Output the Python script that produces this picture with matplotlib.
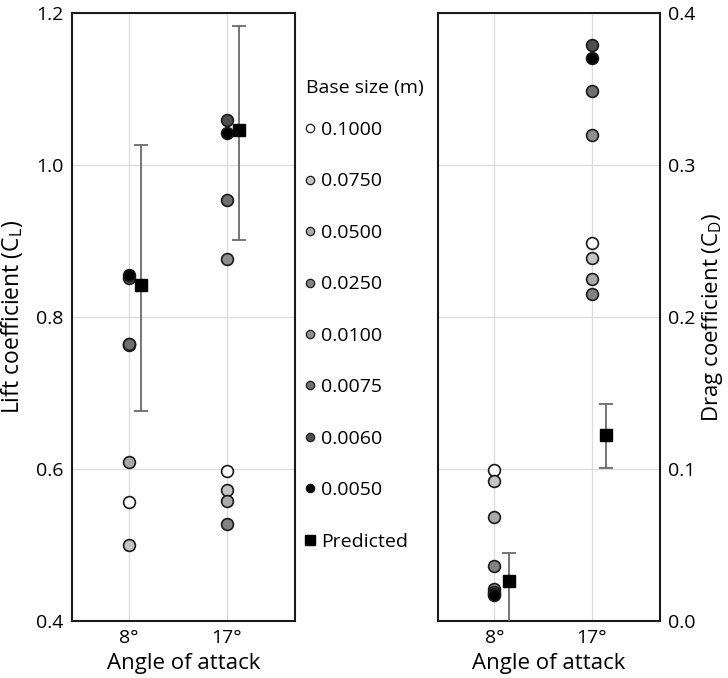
import matplotlib.pyplot as plt
from matplotlib.lines import Line2D

plt.rcParams['font.family'] = ['Open Sans', 'DejaVu Sans']
plt.rcParams['mathtext.fontset'] = 'custom'
plt.rcParams['mathtext.rm'] = 'Open Sans'

# data
angles = ["8°", "17°"]
sizes = ["0.1000", "0.0750", "0.0500", "0.0250", "0.0100", "0.0075", "0.0060", "0.0050"]
greys = ["#ffffff", "#c4c4c4", "#a9a9a9", "#828282", "#8f8f8f", "#6f6f6f", "#4d4d4d", "#000000"]

# lift coefficient per base size, [8°, 17°]
cl = [[0.556, 0.598], [0.500, 0.573], [0.609, 0.558], [0.763, 0.528],
      [0.764, 0.877], [0.765, 0.954], [0.852, 1.059], [0.856, 1.042]]
cl_pred = [0.842, 1.046]
cl_lo = [0.677, 0.902]
cl_hi = [1.026, 1.183]

# drag coefficient per base size, [8°, 17°]
cd = [[0.0997, 0.2487], [0.092, 0.2389], [0.0682, 0.2251], [0.0362, 0.215],
      [0.021, 0.320], [0.019, 0.349], [0.018, 0.379], [0.017, 0.3706]]
cd_pred = [0.0263, 0.1223]
cd_lo = [-0.01, 0.1008]
cd_hi = [0.0449, 0.1429]

fig = plt.figure(figsize=(7.28, 6.78), dpi=100)
axL = fig.add_axes([72 / 728, 57 / 678, 223 / 728, 607.7 / 678])
axR = fig.add_axes([438 / 728, 57 / 678, 222 / 728, 607.7 / 678])


def panel(ax, vals, pred, lo, hi, off):
    xs = list(range(len(angles)))
    ax.grid(True, color="#dcdcdc", lw=0.9, zorder=0)
    for v, g in zip(vals, greys):
        ax.plot(xs, v, "o", ms=8.5, mfc=g, mec="#1a1a1a", mew=1.2, ls="none", zorder=3)
    px = [x + off for x in xs]
    err = [[p - l for p, l in zip(pred, lo)], [h - p for p, h in zip(pred, hi)]]
    ax.errorbar(px, pred, yerr=err, fmt="s", ms=8, mfc="black", mec="black",
                ecolor="#6a6a6a", elinewidth=1.3, capsize=5, capthick=1.3, zorder=4)
    ax.set_xticks(xs)
    ax.set_xticklabels(angles)
    ax.set_xlim(-0.58, 1.7)
    ax.tick_params(length=0, labelsize=14, pad=6)
    for s in ax.spines.values():
        s.set_linewidth(1.5)
        s.set_color("#1a1a1a")
    ax.set_xlabel("Angle of attack", fontsize=16, labelpad=4)


panel(axL, cl, cl_pred, cl_lo, cl_hi, 0.128)
axL.set_ylim(0.4, 1.2)
axL.set_yticks([0.4, 0.6, 0.8, 1.0, 1.2])
axL.set_ylabel("Lift coefficient (C$_\\mathregular{L}$)", fontsize=16.5, labelpad=8)

panel(axR, cd, cd_pred, cd_lo, cd_hi, 0.15)
axR.set_ylim(0.0, 0.4)
axR.set_yticks([0.0, 0.1, 0.2, 0.3, 0.4])
axR.yaxis.tick_right()
axR.yaxis.set_label_position("right")
axR.set_ylabel("Drag coefficient (C$_\\mathregular{D}$)", fontsize=16, labelpad=3)

# legend: title as plain text, entries as a figure legend
fig.text(306 / 728, 1 - 88 / 678, "Base size (m)", fontsize=14, ha="left", va="center")
handles = [Line2D([], [], marker="o", ls="none", ms=6, mfc=g, mec="#1a1a1a", mew=0.9)
           for g in greys]
handles.append(Line2D([], [], marker="s", ls="none", ms=6.5, mfc="black", mec="black"))
fig.legend(handles, sizes + ["Predicted"], loc="upper left",
           bbox_to_anchor=(302 / 728, 1 - 121 / 678), frameon=False, fontsize=14,
           labelspacing=1.72, handletextpad=0.2, handlelength=0.8, borderpad=0,
           borderaxespad=0)

fig.savefig("out.png", dpi=100)
